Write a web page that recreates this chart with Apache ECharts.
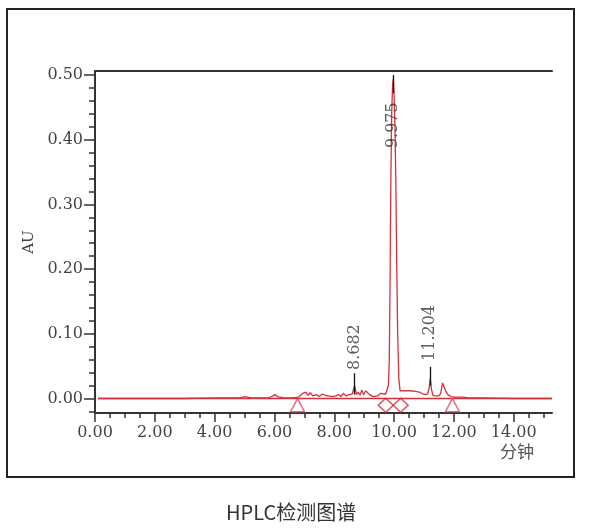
<!DOCTYPE html>
<html>
<head>
<meta charset="utf-8">
<script src="https://cdn.jsdelivr.net/npm/echarts@6/dist/echarts.min.js"></script>
<style>
html,body{margin:0;padding:0;background:#fff;}
#chart{width:600px;height:528px;}
</style>
</head>
<body>
<div id="chart"></div>
<script>
// ---- data ----
const xTicks = [0, 2, 4, 6, 8, 10, 12, 14];
const yTicks = [0, 0.1, 0.2, 0.3, 0.4, 0.5];

const signalTime = [0.10,1.00,2.00,3.00,4.00,4.80,5.02,5.20,5.80,5.95,6.02,6.10,6.30,6.60,6.80,6.95,7.05,7.12,7.20,7.28,7.40,7.50,7.60,7.70,7.80,7.95,8.05,8.15,8.22,8.30,8.40,8.50,8.60,8.68,8.74,8.80,8.86,8.92,8.98,9.05,9.10,9.18,9.30,9.45,9.55,9.65,9.72,9.77,9.81,9.84,9.87,9.89,9.92,9.95,9.975,10.00,10.03,10.06,10.09,10.12,10.16,10.20,10.26,10.40,10.55,10.70,10.85,10.95,11.05,11.12,11.17,11.21,11.25,11.30,11.40,11.50,11.56,11.62,11.66,11.72,11.80,11.90,12.05,12.30,12.50,13.00,14.00,15.28];
const signalAU   = [0.000,0.000,0.000,0.000,0.001,0.001,0.003,0.001,0.001,0.004,0.006,0.003,0.001,0.001,0.002,0.008,0.010,0.005,0.009,0.004,0.006,0.003,0.007,0.005,0.004,0.003,0.004,0.006,0.003,0.008,0.004,0.006,0.007,0.020,0.006,0.010,0.005,0.013,0.006,0.012,0.015,0.006,0.003,0.004,0.008,0.007,0.007,0.010,0.020,0.060,0.200,0.330,0.440,0.485,0.495,0.470,0.420,0.330,0.200,0.100,0.030,0.012,0.010,0.012,0.012,0.011,0.010,0.007,0.006,0.007,0.015,0.031,0.014,0.005,0.004,0.004,0.008,0.024,0.026,0.012,0.006,0.003,0.002,0.002,0.001,0.001,0.000,0.000];

const baselineTime = [0.10, 15.28];
const baselineAU = [0, 0];

const peakTime = [8.682, 9.975, 11.204];
const peakName = ['8.682', '9.975', '11.204'];
const peakTickTop = [0.039, 0.500, 0.049];
const peakTickBottom = [0.006, 0.472, 0.020];
const peakLabelAU = [0.044, 0.387, 0.058];

const triangleTime = [6.77, 11.95];
const diamondTime = [9.72, 10.22];
const markerAU = -0.0103;

// ---- chart ----
const RED = '#d5303c';
const serif = 'DejaVu Serif';
const chart = echarts.init(document.getElementById('chart'), null, {renderer: 'canvas'});

const zip = (a, b) => a.map((v, i) => [v, b[i]]);
const fmt2 = v => v.toFixed(2);

const option = {
  backgroundColor: '#fff',
  animation: false,
  title: {
    text: 'HPLC检测图谱',
    left: 221, top: 497,
    textStyle: {fontFamily: 'Noto Sans CJK SC', fontSize: 20, fontWeight: 'normal', color: '#333'}
  },
  graphic: [{
    type: 'rect', shape: {x: 7, y: 9, width: 567, height: 468},
    style: {fill: 'none', stroke: '#222', lineWidth: 2}, silent: true
  }],
  grid: {left: 95, right: 48, top: 71, bottom: 115, containLabel: false},
  xAxis: [{
    type: 'value', min: 0, max: 15.28, interval: 2,
    name: '分钟', nameLocation: 'end', nameGap: -52,
    nameTextStyle: {fontFamily: 'Noto Sans CJK SC', fontSize: 17, color: '#555', align: 'left', verticalAlign: 'top', padding: [30, 0, 0, 0]},
    axisLine: {show: true, onZero: false, lineStyle: {color: '#333', width: 2}},
    axisTick: {show: true, inside: false, length: 9, customValues: xTicks, lineStyle: {color: '#333', width: 1.5}},
    minorTick: {show: true, splitNumber: 4, length: 5, lineStyle: {color: '#333', width: 1.5}},
    axisLabel: {customValues: xTicks, formatter: fmt2, margin: 12, fontFamily: serif, fontSize: 16, color: '#444'},
    splitLine: {show: false}
  }, {
    type: 'value', position: 'top', min: 0, max: 15.28,
    axisLine: {show: true, onZero: false, lineStyle: {color: '#333', width: 2}},
    axisTick: {show: false}, axisLabel: {show: false}, splitLine: {show: false}
  }],
  yAxis: {
    type: 'value', min: -0.0224, max: 0.5062,
    name: 'AU', nameLocation: 'middle', nameGap: 50, nameRotate: 90,
    nameTextStyle: {fontFamily: serif, fontSize: 15, color: '#444'},
    axisLine: {show: true, onZero: false, lineStyle: {color: '#333', width: 2}},
    axisTick: {show: true, length: 11, customValues: yTicks, lineStyle: {color: '#333', width: 1.5}},
    minorTick: {show: true, splitNumber: 5, length: 6, lineStyle: {color: '#333', width: 1.5}},
    axisLabel: {customValues: yTicks, formatter: fmt2, margin: 12, fontFamily: serif, fontSize: 16, color: '#444'},
    splitLine: {show: false}
  },
  series: [
    {
      type: 'line', data: zip(baselineTime, baselineAU), symbol: 'none',
      lineStyle: {color: RED, width: 1.3}, z: 2
    },
    {
      type: 'line', data: zip(signalTime, signalAU), symbol: 'none',
      lineStyle: {color: RED, width: 1.3}, z: 3,
      markLine: {
        silent: true, symbol: 'none', label: {show: false},
        lineStyle: {color: '#111', width: 1.3, type: 'solid'},
        data: peakTime.map((t, i) => [{coord: [t, peakTickBottom[i]]}, {coord: [t, peakTickTop[i]]}])
      }
    },
    {
      type: 'scatter', data: triangleTime.map(t => [t, markerAU]),
      symbol: 'triangle', symbolSize: [14, 13],
      itemStyle: {color: 'rgba(255,255,255,0)', borderColor: '#e0485e', borderWidth: 1.5}, z: 4
    },
    {
      type: 'scatter', data: diamondTime.map(t => [t, markerAU]),
      symbol: 'diamond', symbolSize: [15, 14],
      itemStyle: {color: 'rgba(255,255,255,0)', borderColor: '#d52a3a', borderWidth: 1.5}, z: 4
    },
    {
      type: 'scatter', symbolSize: 0,
      data: peakTime.map((t, i) => ({value: [t, peakLabelAU[i]], name: peakName[i]})),
      label: {
        show: true, position: 'top', distance: 0, rotate: 90,
        align: 'left', verticalAlign: 'middle',
        formatter: p => p.name,
        fontFamily: serif, fontSize: 16, color: '#333'
      }, z: 5
    }
  ]
};
chart.setOption(option);
</script>
</body>
</html>
